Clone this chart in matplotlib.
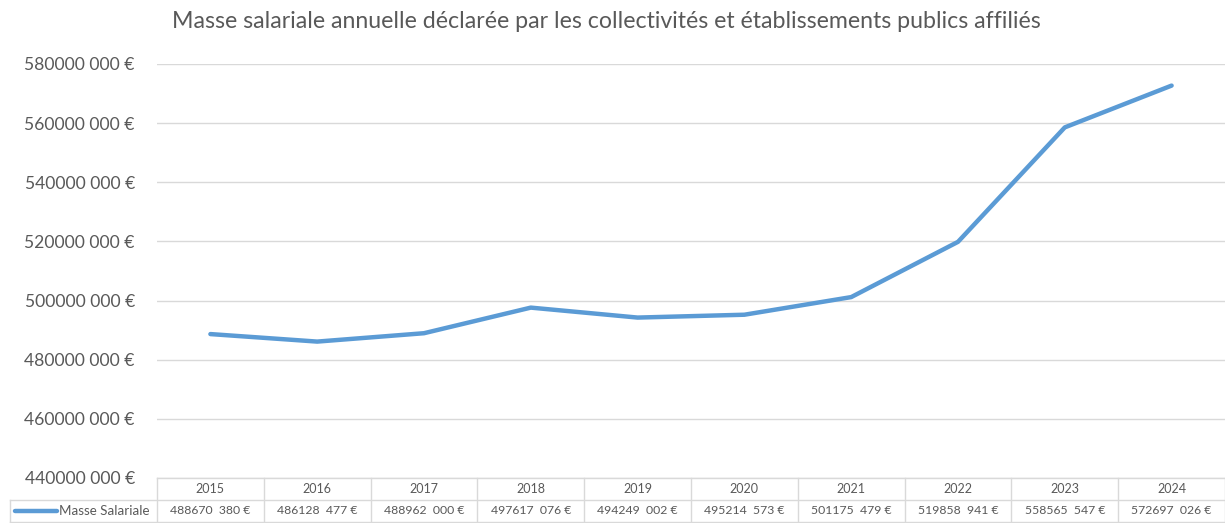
import matplotlib.pyplot as plt
import numpy as np

# data
years = ["2015", "2016", "2017", "2018", "2019", "2020", "2021", "2022", "2023", "2024"]
masse = [488670380, 486128477, 488962000, 497617076, 494249002,
         495214573, 501175479, 519858941, 558565547, 572697026]
series_name = "Masse Salariale"
yticks = [440000000, 460000000, 480000000, 500000000,
          520000000, 540000000, 560000000, 580000000]

blue = "#5B9BD5"
grey = "#D9D9D9"
txt = "#595959"

plt.rcParams['font.family'] = ['Lato', 'DejaVu Sans']

def fmt_eur(v, gap=" "):
    s = f"{int(v):d}"
    return f"{s[:-6]}{s[-6:-3]}{gap}{s[-3:]} €"

fig = plt.figure(figsize=(12.25, 5.23), dpi=100)
W, H = 1225, 523
ax = fig.add_axes([157 / W, 1 - 478 / H, (1225 - 157) / W, (478 - 64) / H])

x = np.arange(len(years))
ax.plot(x, masse, color=blue, lw=3.2, solid_capstyle="round", zorder=3)
ax.set_xlim(-0.5, len(years) - 0.5)
ax.set_ylim(yticks[0], yticks[-1])
ax.set_yticks(yticks)
ax.set_yticklabels([fmt_eur(v) for v in yticks], fontsize=12.6, color=txt)
ax.tick_params(axis="y", length=0, pad=16)
ax.set_xticks([])
ax.grid(axis="y", color=grey, lw=1)
for s in ax.spines.values():
    s.set_visible(False)
ax.set_axisbelow(True)

fig.text(606 / W, 1 - 22 / H,
         "Masse salariale annuelle déclarée par les collectivités et établissements publics affiliés",
         ha="center", va="center", fontsize=16.7, color=txt)

# data table under the axis
def fy(py):
    return 1 - py / H

def fx(px):
    return px / W

lc = dict(color=grey, lw=1, transform=fig.transFigure)
top, mid, bot = 478, 500, 522
fig.add_artist(plt.Line2D([fx(157), fx(1225)], [fy(top), fy(top)], **lc))
fig.add_artist(plt.Line2D([fx(10), fx(1225)], [fy(mid), fy(mid)], **lc))
fig.add_artist(plt.Line2D([fx(10), fx(1225)], [fy(bot), fy(bot)], **lc))
fig.add_artist(plt.Line2D([fx(10), fx(10)], [fy(mid), fy(bot)], **lc))

for i in range(len(years) + 1):
    xp = ax.transData.transform((i - 0.5, 0))[0]
    fig.add_artist(plt.Line2D([xp / W, xp / W], [fy(top), fy(bot)], **lc))
for i, (yr, v) in enumerate(zip(years, masse)):
    xp = ax.transData.transform((i, 0))[0] / W
    fig.text(xp, fy((top + mid) / 2), yr, ha="center", va="center", fontsize=9, color=txt)
    fig.text(xp, fy((mid + bot) / 2), fmt_eur(v, "  "), ha="center", va="center",
             fontsize=8.8, color=txt)

fig.add_artist(plt.Line2D([fx(15), fx(57)], [fy(511), fy(511)], color=blue, lw=3.2,
                          transform=fig.transFigure, solid_capstyle="round"))
fig.text(fx(59), fy(511), series_name, ha="left", va="center", fontsize=9.6, color=txt)

fig.savefig("out.png", dpi=100)
